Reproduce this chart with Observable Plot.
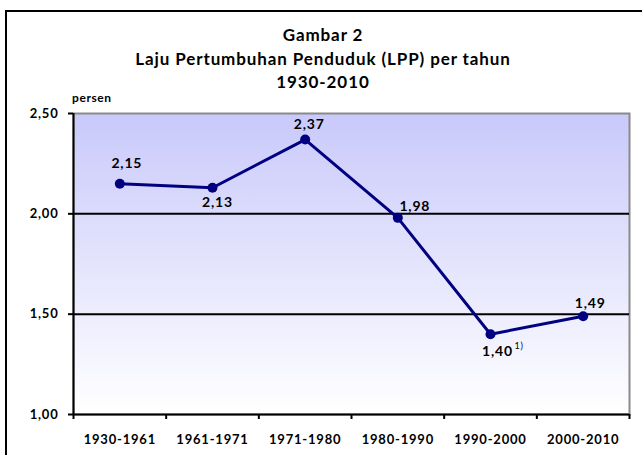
<!DOCTYPE html>
<html>
<head>
<meta charset="utf-8">
<script src="https://cdn.jsdelivr.net/npm/d3@7"></script>
<script src="https://cdn.jsdelivr.net/npm/@observablehq/plot@0.6"></script>
<style>
  html, body { margin: 0; padding: 0; background: #fff; overflow: hidden; }
  #wrap { position: relative; width: 642px; height: 455px; overflow: hidden; font-family: Lato, sans-serif; }
  #border { position: absolute; left: 5px; top: 10px; width: 700px; height: 500px; border: 2.5px solid #000; box-sizing: border-box; }
  .t { position: absolute; left: 5px; width: 636px; text-align: center; font-weight: bold; font-size: 17px; letter-spacing: 0.9px; color: #000; z-index: 2; line-height: 1; }
  #unit { position: absolute; left: 72px; top: 92px; font-weight: bold; font-size: 12px; letter-spacing: 0.6px; z-index: 2; line-height: 1; }
  #chart { position: absolute; left: 0; top: 0; z-index: 1; }
  #chart svg text { letter-spacing: 0.8px; }
</style>
</head>
<body>
<div id="wrap">
  <div id="border"></div>
  <div class="t" style="top:26px">Gambar 2</div>
  <div class="t" style="top:50px">Laju Pertumbuhan Penduduk (LPP) per tahun</div>
  <div class="t" style="top:73px">1930-2010</div>
  <div id="unit">persen</div>
  <div id="chart"></div>
</div>
<script>
// ---- data ----
const periods = ["1930-1961", "1961-1971", "1971-1980", "1980-1990", "1990-2000", "2000-2010"];
const rates = [2.15, 2.13, 2.37, 1.98, 1.40, 1.49];
const rateLabels = ["2,15", "2,13", "2,37", "1,98", "1,40", "1,49"];
const yTicks = [1.0, 1.5, 2.0, 2.5];
const yTickLabels = ["1,00", "1,50", "2,00", "2,50"];
const footnote = "1)";
const footnoteIndex = 4;

// ---- layout (label offsets in px) ----
const labelOffsets = [[7, -20], [5, 15], [4, -15], [17, -11], [7, 17], [7, -13]];

const idx = periods.map((_, i) => i);
const bounds = d3.range(-0.5, periods.length, 1);

const gradient = () => {
  const defs = d3.create("svg:defs");
  const g = defs.append("linearGradient").attr("id", "bgGrad")
    .attr("x1", 0).attr("y1", 0).attr("x2", 0).attr("y2", 1);
  g.append("stop").attr("offset", "0%").attr("stop-color", "#c9c9fb");
  g.append("stop").attr("offset", "100%").attr("stop-color", "#ffffff");
  return defs.node();
};

const labelMarks = idx.map(i => Plot.text([i], {
  x: d => d, y: d => rates[d], text: d => rateLabels[d],
  dx: labelOffsets[i][0], dy: labelOffsets[i][1],
  fontWeight: "bold", fontSize: 14, fill: "#000"
}));

const chart = Plot.plot({
  width: 642,
  height: 455,
  marginLeft: 73,
  marginRight: 13,
  marginTop: 113,
  marginBottom: 41,
  style: { fontFamily: "Lato, sans-serif", background: "transparent", overflow: "visible" },
  x: { type: "linear", domain: [-0.5, periods.length - 0.5], axis: null },
  y: { domain: [1, 2.5], axis: null },
  marks: [
    gradient,
    Plot.frame({ fill: "url(#bgGrad)", stroke: "#8a8a8a", strokeWidth: 2 }),
    Plot.ruleY([1.5, 2.0], { stroke: "#000", strokeWidth: 2 }),
    Plot.ruleY([1.0], { stroke: "#000", strokeWidth: 2 }),
    Plot.ruleX([-0.5], { stroke: "#000", strokeWidth: 2 }),
    Plot.axisY({
      ticks: yTicks, tickSize: 5, tickPadding: 10,
      tickFormat: d => yTickLabels[yTicks.indexOf(d)],
      fontWeight: "bold", fontSize: 13, strokeWidth: 2, label: null, stroke: "#000"
    }),
    Plot.axisX({
      ticks: bounds, tickSize: 5, tickFormat: () => "", strokeWidth: 2, label: null, stroke: "#000"
    }),
    Plot.axisX({
      ticks: idx, tickSize: 0, tickPadding: 20,
      tickFormat: d => periods[d],
      fontWeight: "bold", fontSize: 13, label: null
    }),
    Plot.line(idx, { x: d => d, y: d => rates[d], stroke: "#000080", strokeWidth: 3 }),
    Plot.dot(idx, { x: d => d, y: d => rates[d], r: 5, fill: "#000080", stroke: "none" }),
    ...labelMarks,
    Plot.text([footnoteIndex], {
      x: d => d, y: d => rates[d], text: () => footnote,
      dx: 24, dy: 12, textAnchor: "start", fontSize: 9, fill: "#000"
    })
  ]
});
document.getElementById("chart").appendChild(chart);
</script>
</body>
</html>
